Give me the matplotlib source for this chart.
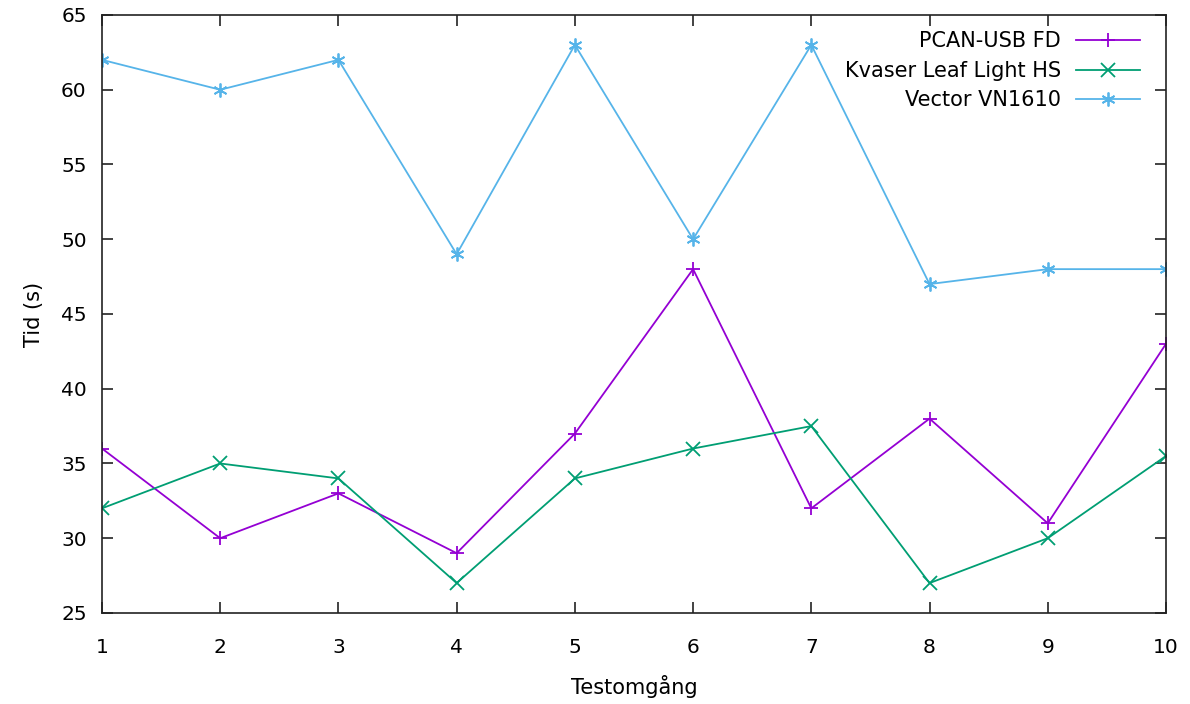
import matplotlib.pyplot as plt

# testomgångar och tider (s)
runs = [1, 2, 3, 4, 5, 6, 7, 8, 9, 10]
pcan = [36, 30, 33, 29, 37, 48, 32, 38, 31, 43]
kvaser = [32, 35, 34, 27, 34, 36, 37.5, 27, 30, 35.5]
vector = [62, 60, 62, 49, 63, 50, 63, 47, 48, 48]

labels = ["PCAN-USB FD", "Kvaser Leaf Light HS", "Vector VN1610"]
colors = ["#9400d3", "#009e73", "#56b4e9"]
markers = ["+", "x", (6, 2, 0)]


def main():
    plt.rcParams['font.family'] = ['DejaVu Sans']
    fig = plt.figure(figsize=(11.9, 7.04), dpi=100)
    ax = fig.add_axes([0.0857, 0.1293, 0.8941, 0.8494])

    for series, label, color, marker in zip([pcan, kvaser, vector], labels, colors, markers):
        ax.plot(runs, series, color=color, lw=1.3, marker=marker,
                markersize=10, markeredgewidth=1.3, label=label)

    ax.set_xlim(1, 10)
    ax.set_ylim(25, 65)
    ax.set_xticks(runs)
    ax.set_yticks(range(25, 66, 5))
    ax.tick_params(direction='in', length=8, width=1.2, top=True, right=True,
                   labelsize=14.5, color='#222222')
    ax.tick_params(axis='x', pad=18)
    ax.tick_params(axis='y', pad=11)
    for s in ax.spines.values():
        s.set_linewidth(1.2)
        s.set_color('#222222')

    ax.set_xlabel("Testomgång", fontsize=15, labelpad=13)
    ax.set_ylabel("Tid (s)", fontsize=15, labelpad=12)

    ax.legend(loc='upper right', bbox_to_anchor=(0.974, 0.982), bbox_transform=fig.transFigure,
              frameon=False, markerfirst=False, fontsize=15, handlelength=3.1,
              labelspacing=0.45, handletextpad=0.7)

    fig.savefig("out.png", dpi=100)


if __name__ == "__main__":
    main()
